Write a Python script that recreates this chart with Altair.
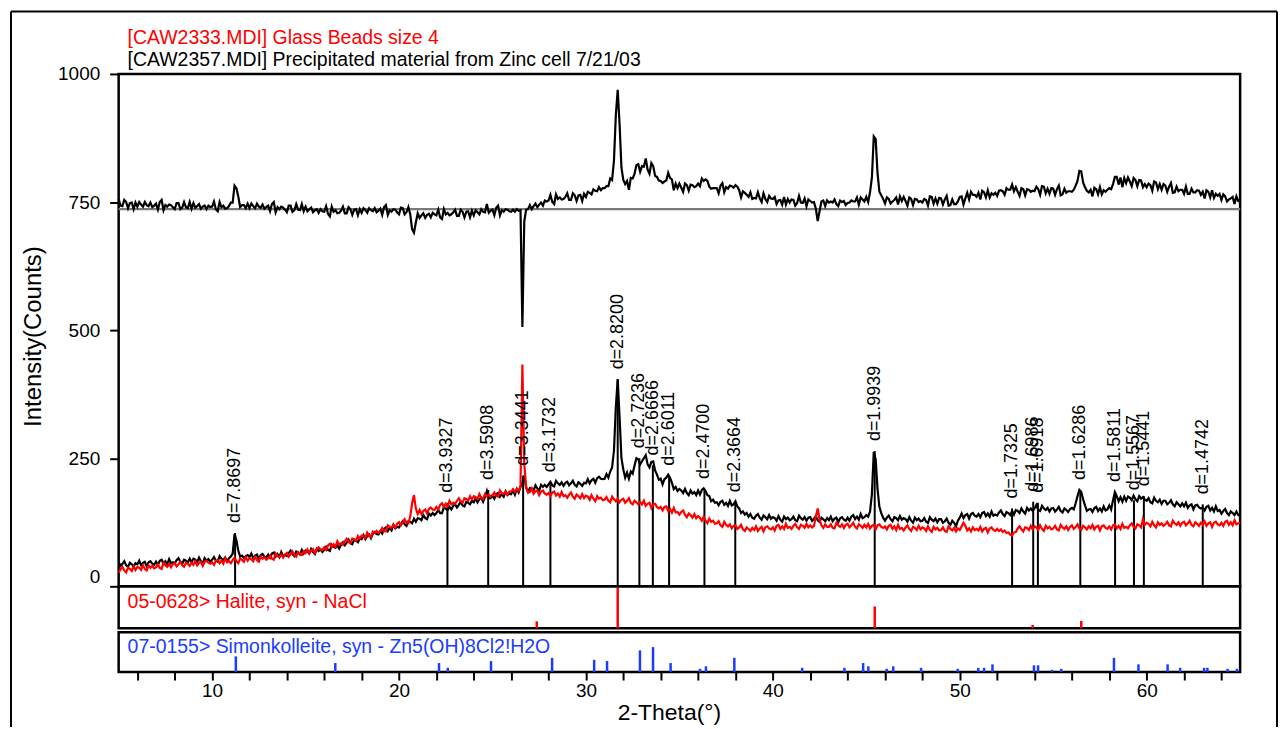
import altair as alt
import numpy as np
import pandas as pd

FONT = "Liberation Sans"

# ---------------- data ----------------
theta_start = 5.0
theta_step = 0.1

# sample pattern (black), one row per degree: x.0 ... x.9
black_counts = [
    47, 40, 44, 49, 41, 38, 46, 43, 39, 45,      # 5
    43, 50, 41, 46, 48, 39, 47, 49, 44, 42,      # 6
    48, 42, 50, 52, 44, 49, 43, 53, 45, 47,      # 7
    45, 51, 55, 48, 44, 52, 50, 46, 54, 47,      # 8
    54, 52, 47, 56, 49, 45, 55, 50, 53, 48,      # 9
    52, 57, 50, 48, 59, 54, 51, 56, 49, 55,      # 10
    58, 64, 102, 90, 70, 58, 60, 56, 59, 61,     # 11
    57, 64, 55, 60, 62, 53, 61, 63, 58, 56,      # 12
    62, 56, 64, 66, 58, 63, 57, 67, 59, 61,      # 13
    59, 65, 70, 63, 59, 68, 66, 62, 71, 64,      # 14
    70, 68, 64, 73, 67, 63, 73, 69, 72, 67,      # 15
    71, 77, 71, 69, 81, 77, 75, 80, 74, 81,      # 16
    86, 80, 85, 91, 84, 82, 91, 89, 86, 93,      # 17
    92, 100, 92, 98, 101, 94, 103, 106, 102, 101,  # 18
    108, 103, 112, 115, 108, 114, 109, 120, 113, 116,  # 19
    115, 122, 127, 121, 118, 127, 126, 123, 132, 126,  # 20
    133, 132, 129, 139, 133, 131, 142, 138, 143, 139,  # 21
    143, 149, 143, 143, 155, 151, 149, 155, 150, 157,  # 22
    160, 154, 159, 165, 158, 156, 165, 163, 160, 167,  # 23
    164, 172, 164, 170, 173, 165, 174, 186, 172, 172,  # 24
    177, 171, 180, 182, 175, 180, 175, 185, 178, 181,  # 25
    180, 188, 179, 190, 183, 194, 203, 216, 193, 184,  # 26
    192, 191, 187, 197, 191, 187, 198, 194, 198, 194,  # 27
    199, 204, 197, 195, 206, 201, 198, 203, 196, 202,  # 28
    204, 197, 201, 206, 198, 195, 203, 200, 196, 202,  # 29
    201, 209, 201, 207, 210, 202, 211, 214, 210, 209,  # 30
    210, 219, 212, 224, 232, 265, 350, 404, 330, 250,  # 31
    228, 212, 222, 210, 224, 220, 236, 250, 248, 238,  # 32
    244, 250, 256, 238, 232, 243, 244, 226, 218, 208,  # 33
    210, 199, 209, 212, 218, 212, 202, 190, 194, 186,  # 34
    190, 187, 182, 190, 182, 178, 187, 181, 184, 178,  # 35
    187, 179, 188, 191, 186, 178, 176, 166, 169, 163,  # 36
    164, 158, 165, 167, 159, 163, 157, 167, 158, 160,  # 37
    166, 156, 152, 143, 146, 140, 143, 136, 141, 134,  # 38
    132, 138, 141, 134, 130, 138, 135, 131, 139, 132,  # 39
    135, 133, 128, 137, 130, 126, 136, 131, 134, 129,  # 40
    131, 136, 129, 127, 138, 133, 130, 135, 128, 134,  # 41
    135, 128, 132, 137, 129, 126, 134, 131, 127, 133,  # 42
    129, 136, 127, 132, 134, 125, 133, 135, 130, 128,  # 43
    134, 128, 136, 139, 131, 136, 130, 141, 133, 135,  # 44
    139, 136, 146, 180, 262, 248, 190, 155, 143, 134,  # 45
    128, 134, 138, 131, 127, 135, 133, 129, 137, 130,  # 46
    133, 131, 126, 135, 128, 124, 134, 129, 132, 127,  # 47
    128, 133, 126, 124, 135, 130, 127, 132, 125, 131,  # 48
    131, 124, 127, 132, 124, 120, 128, 124, 117, 128,  # 49
    134, 142, 133, 139, 141, 132, 141, 143, 138, 136,  # 50
    141, 135, 143, 145, 137, 142, 136, 146, 138, 140,  # 51
    138, 144, 148, 141, 137, 145, 143, 139, 147, 140,  # 52
    149, 147, 143, 152, 146, 142, 153, 148, 152, 147,  # 53
    152, 159, 149, 147, 157, 152, 149, 153, 146, 152,  # 54
    153, 146, 150, 155, 147, 144, 152, 149, 145, 151,  # 55
    153, 150, 162, 176, 188, 184, 170, 158, 147, 150,  # 56
    151, 145, 153, 155, 147, 152, 146, 156, 148, 150,  # 57
    158, 150, 168, 184, 176, 166, 174, 165, 175, 167,  # 58
    175, 173, 168, 177, 170, 166, 176, 171, 174, 169,  # 59
    167, 172, 164, 162, 173, 167, 164, 169, 161, 167,  # 60
    167, 160, 163, 168, 160, 156, 164, 160, 156, 162,  # 61
    156, 163, 153, 158, 160, 150, 158, 159, 154, 152,  # 62
    154, 148, 155, 157, 148, 153, 146, 156, 147, 149,  # 63
    142, 147, 151, 143, 139, 146, 143, 139, 146, 139,  # 64
    139,                                               # 65.0
]

# glass beads pattern (red)
red_counts = [
    27, 33, 38, 31, 27, 36, 34, 30, 39, 32,      # 5
    38, 36, 32, 41, 34, 31, 41, 36, 40, 35,      # 6
    37, 43, 36, 34, 46, 41, 38, 44, 37, 43,      # 7
    45, 39, 43, 48, 41, 38, 46, 44, 40, 46,      # 8
    42, 49, 41, 46, 48, 40, 48, 50, 46, 44,      # 9
    47, 42, 50, 52, 45, 50, 44, 55, 47, 49,      # 10
    45, 51, 56, 49, 45, 54, 52, 48, 57, 50,      # 11
    55, 53, 49, 58, 51, 48, 58, 54, 57, 52,      # 12
    55, 60, 54, 52, 64, 59, 57, 62, 56, 62,      # 13
    65, 58, 63, 68, 61, 58, 67, 64, 61, 68,      # 14
    65, 72, 64, 70, 73, 65, 73, 76, 72, 71,      # 15
    76, 71, 80, 83, 76, 82, 77, 88, 81, 84,      # 16
    81, 88, 93, 87, 84, 93, 92, 89, 98, 93,      # 17
    99, 98, 94, 105, 99, 96, 107, 104, 108, 104,  # 18
    107, 114, 108, 107, 119, 116, 114, 120, 114, 122,  # 19
    125, 119, 125, 131, 124, 123, 136, 162, 178, 152,  # 20
    141, 149, 141, 147, 150, 142, 151, 154, 150, 149,  # 21
    155, 150, 159, 162, 155, 161, 156, 167, 160, 163,  # 22
    161, 167, 172, 166, 163, 172, 170, 167, 176, 170,  # 23
    176, 174, 170, 180, 173, 170, 180, 176, 179, 175,  # 24
    178, 183, 177, 175, 187, 182, 180, 185, 179, 185,  # 25
    185, 189, 184, 190, 186, 196, 433, 240, 194, 184,  # 26
    184, 191, 181, 186, 187, 178, 185, 187, 181, 179,  # 27
    182, 176, 183, 185, 177, 181, 175, 184, 176, 178,  # 28
    173, 179, 183, 175, 171, 179, 176, 172, 180, 172,  # 29
    177, 175, 169, 178, 171, 166, 176, 171, 173, 168,  # 30
    169, 174, 167, 164, 175, 170, 166, 171, 164, 169,  # 31
    171, 163, 167, 172, 163, 160, 167, 164, 160, 165,  # 32
    160, 167, 157, 161, 163, 153, 160, 161, 155, 152,  # 33
    155, 148, 155, 156, 147, 151, 144, 153, 144, 145,  # 34
    140, 145, 148, 140, 135, 142, 139, 134, 141, 133,  # 35
    137, 134, 128, 136, 128, 123, 132, 126, 128, 122,  # 36
    123, 127, 119, 116, 126, 120, 117, 121, 113, 118,  # 37
    119, 112, 115, 120, 111, 108, 115, 112, 108, 114,  # 38
    110, 117, 108, 113, 116, 107, 115, 117, 113, 111,  # 39
    115, 109, 118, 120, 112, 117, 112, 122, 114, 116,  # 40
    112, 118, 122, 115, 112, 120, 118, 114, 122, 115,  # 41
    119, 115, 118, 136, 152, 130, 119, 114, 121, 116,  # 42
    116, 121, 114, 113, 124, 119, 116, 121, 114, 120,  # 43
    122, 115, 119, 124, 116, 113, 121, 118, 114, 120,  # 44
    115, 122, 113, 118, 120, 111, 119, 121, 116, 114,  # 45
    117, 111, 118, 120, 112, 117, 110, 120, 112, 114,  # 46
    109, 115, 119, 112, 108, 116, 114, 110, 118, 111,  # 47
    115, 113, 108, 117, 110, 106, 116, 111, 114, 109,  # 48
    110, 115, 108, 106, 117, 112, 109, 114, 107, 113,  # 49
    110, 117, 124, 118, 109, 113, 107, 115, 110, 112,  # 50
    109, 116, 107, 112, 114, 105, 113, 115, 110, 108,  # 51
    112, 108, 111, 106, 109, 104, 105, 101, 99, 105,   # 52
    106, 113, 117, 111, 107, 115, 114, 110, 118, 111,  # 53
    117, 115, 110, 119, 112, 108, 118, 113, 116, 111,  # 54
    113, 118, 111, 109, 120, 115, 112, 117, 110, 116,  # 55
    119, 112, 116, 121, 113, 110, 118, 115, 111, 117,  # 56
    113, 120, 111, 116, 118, 109, 117, 119, 114, 112,  # 57
    117, 111, 119, 121, 113, 118, 112, 122, 114, 116,  # 58
    113, 119, 123, 116, 113, 121, 119, 115, 131, 120,  # 59
    124, 122, 117, 126, 119, 115, 125, 120, 123, 118,  # 60
    121, 126, 119, 117, 128, 123, 120, 125, 118, 124,  # 61
    126, 119, 123, 128, 120, 117, 125, 122, 118, 124,  # 62
    120, 127, 118, 123, 125, 116, 124, 126, 121, 119,  # 63
    124, 118, 126, 128, 120, 125, 119, 129, 121, 123,  # 64
    124,                                               # 65.0
]

# difference trace is plotted as black - red + this offset (grey reference line)
difference_offset = 736

# peak markers on the sample pattern
peak_theta = [11.23, 22.59, 24.77, 26.64, 28.10, 31.70, 32.86, 33.58, 34.45, 36.34,
              37.99, 45.45, 52.80, 53.93, 54.18, 56.45, 58.31, 59.32, 59.85, 63.00]
peak_d = ["7.8697", "3.9327", "3.5908", "3.3441", "3.1732", "2.8200", "2.7236", "2.6666",
          "2.6011", "2.4700", "2.3664", "1.9939", "1.7325", "1.6986", "1.6918", "1.6286",
          "1.5811", "1.5567", "1.5441", "1.4742"]
peak_top = [104, 163, 188, 216, 203, 404, 250, 236, 216, 190,
            164, 264, 152, 165, 163, 188, 184, 168, 176, 160]

# reference sticks
halite_theta = [27.37, 31.70, 45.45, 53.90, 56.50]
halite_int = [17, 100, 54, 8, 18]

simon_theta = [11.27, 16.59, 22.14, 22.61, 24.92, 28.19, 30.44, 31.13, 32.89, 33.59,
               34.53, 36.10, 36.42, 37.94, 41.57, 43.83, 44.83, 45.11, 46.09, 46.44,
               47.93, 49.89, 50.99, 51.30, 51.75, 53.97, 54.19, 54.93, 55.43, 58.25,
               59.56, 61.12, 61.79, 63.07, 63.25, 64.33, 64.83]
simon_int = [63, 36, 36, 17, 44, 57, 49, 44, 87, 100,
             36, 13, 23, 57, 17, 17, 36, 23, 13, 23,
             17, 13, 17, 17, 31, 27, 27, 9, 13, 57,
             31, 31, 17, 17, 17, 13, 13]

x_tick_values = list(range(6, 65, 2))
y_tick_values = [0, 250, 500, 750, 1000]

title_red = "[CAW2333.MDI] Glass Beads size 4"
title_black = "[CAW2357.MDI] Precipitated material from Zinc cell 7/21/03"
halite_label = "05-0628> Halite, syn - NaCl"
simon_label = "07-0155> Simonkolleite, syn - Zn5(OH)8Cl2!H2O"
x_title = "2-Theta(°)"
y_title = "Intensity(Counts)"

# ---------------- tables ----------------
n = len(black_counts)
assert n == len(red_counts)
theta = np.round(theta_start + theta_step * np.arange(n), 2)
scan = pd.DataFrame({"theta": theta, "black": black_counts, "red": red_counts})
scan["diff"] = scan["black"] - scan["red"] + difference_offset

peaks = pd.DataFrame({"theta": peak_theta, "top": peak_top, "base": 0,
                      "label": ["d=" + d for d in peak_d]})
halite = pd.DataFrame({"theta": halite_theta, "int": halite_int, "base": 0})
simon = pd.DataFrame({"theta": simon_theta, "int": simon_int, "base": 0})
ref = pd.DataFrame({"level": [difference_offset]})
one = pd.DataFrame({"k": [0]})

# ---------------- chart ----------------
W = 1125
RED = "#ff0000"
BLUE = "#1a3cff"
LW = 2.2

x_scale = alt.Scale(domain=[5, 65], nice=False, zero=False)
y_scale = alt.Scale(domain=[0, 1000], nice=False, zero=False)

y_axis = alt.Axis(
    values=y_tick_values, format="d", title=y_title, titleFont=FONT, titleFontSize=24,
    titleFontWeight="normal", titleColor="black", titlePadding=12, titleY=263,
    labelFont=FONT, labelFontSize=19, labelColor="black", labelPadding=10,
    labelBaseline=alt.condition("datum.value == 0", alt.value("bottom"), alt.value("middle")),
    tickSize=9, tickWidth=2, tickColor="black", domain=False, grid=False,
)


def X(field):
    return alt.X(field, type="quantitative", scale=x_scale, axis=None)


def Y(field):
    return alt.Y(field, type="quantitative", scale=y_scale, axis=y_axis)


ref_line = alt.Chart(ref).mark_rule(color="#7a7a7a", strokeWidth=2.2).encode(y=Y("level"))
diff_line = alt.Chart(scan).mark_line(color="black", strokeWidth=LW).encode(x=X("theta"), y=Y("diff"))
peak_rules = alt.Chart(peaks).mark_rule(color="black", strokeWidth=2).encode(
    x=X("theta"), y=Y("base"), y2="top")
black_line = alt.Chart(scan).mark_line(color="black", strokeWidth=LW).encode(x=X("theta"), y=Y("black"))
red_line = alt.Chart(scan).mark_line(color=RED, strokeWidth=LW).encode(x=X("theta"), y=Y("red"))
peak_text = alt.Chart(peaks).mark_text(
    angle=270, align="left", baseline="middle", dx=10, font=FONT, fontSize=18, color="black"
).encode(x=X("theta"), y=Y("top"), text="label:N")

# header texts above the plot
head_red = alt.Chart(pd.DataFrame({"t": [title_red]})).mark_text(
    align="left", baseline="middle", font=FONT, fontSize=19.5, color=RED
).encode(x=alt.value(9), y=alt.value(-35.7), text="t:N")
head_black = alt.Chart(pd.DataFrame({"t": [title_black]})).mark_text(
    align="left", baseline="middle", font=FONT, fontSize=19.5, color="black"
).encode(x=alt.value(9), y=alt.value(-13.7), text="t:N")

# page frame
frame_left = alt.Chart(one).mark_rule(color="black", strokeWidth=2).encode(
    x=alt.value(-108), y=alt.value(-62.7), y2=alt.value(655))
frame_top = alt.Chart(one).mark_rule(color="black", strokeWidth=2).encode(
    x=alt.value(-108), x2=alt.value(1162), y=alt.value(-62.7))
frame_right = alt.Chart(one).mark_rule(color="black", strokeWidth=2).encode(
    x=alt.value(1162), y=alt.value(-62.7), y2=alt.value(655))

main = alt.layer(
    ref_line, diff_line, peak_rules, black_line, red_line, peak_text,
    head_red, head_black, frame_left, frame_top, frame_right,
).properties(width=W, height=514)

hal_rules = alt.Chart(halite).mark_rule(color=RED, strokeWidth=2.5).encode(
    x=X("theta"),
    y=alt.Y("base:Q", scale=alt.Scale(domain=[0, 104], nice=False), axis=None),
    y2="int",
)
hal_text = alt.Chart(pd.DataFrame({"t": [halite_label]})).mark_text(
    align="left", baseline="middle", font=FONT, fontSize=19.5, color=RED
).encode(x=alt.value(9), y=alt.value(16), text="t:N")
halite_panel = alt.layer(hal_rules, hal_text).properties(width=W, height=42)

x_axis = alt.Axis(
    values=x_tick_values, labelExpr="datum.value % 10 === 0 ? datum.label : ''",
    title=x_title, titleFont=FONT, titleFontSize=23, titleFontWeight="normal",
    titleColor="black", titlePadding=1, titleX=552,
    labelFont=FONT, labelFontSize=19, labelColor="black", labelPadding=2,
    tickSize=8, tickWidth=2, tickColor="black", domain=False, grid=False,
    labelOverlap=False, labelFlush=False,
)
sim_rules = alt.Chart(simon).mark_rule(color=BLUE, strokeWidth=2.5).encode(
    x=alt.X("theta:Q", scale=x_scale, axis=x_axis),
    y=alt.Y("base:Q", scale=alt.Scale(domain=[0, 160], nice=False), axis=None),
    y2="int",
)
sim_text = alt.Chart(pd.DataFrame({"t": [simon_label]})).mark_text(
    align="left", baseline="middle", font=FONT, fontSize=19.5, color=BLUE
).encode(x=alt.value(9), y=alt.value(15), text="t:N")
simon_panel = alt.layer(sim_rules, sim_text).properties(width=W, height=40)

lower = alt.vconcat(halite_panel, simon_panel, spacing=4, bounds="flush")
chart = alt.vconcat(main, lower, spacing=0, bounds="flush").properties(
    padding={"left": 0, "top": 0, "right": 0, "bottom": 0}
).configure(background="white", font=FONT).configure_view(stroke="black", strokeWidth=2.5)

chart.save("out.html", embed_options={"renderer": "svg", "actions": False})
